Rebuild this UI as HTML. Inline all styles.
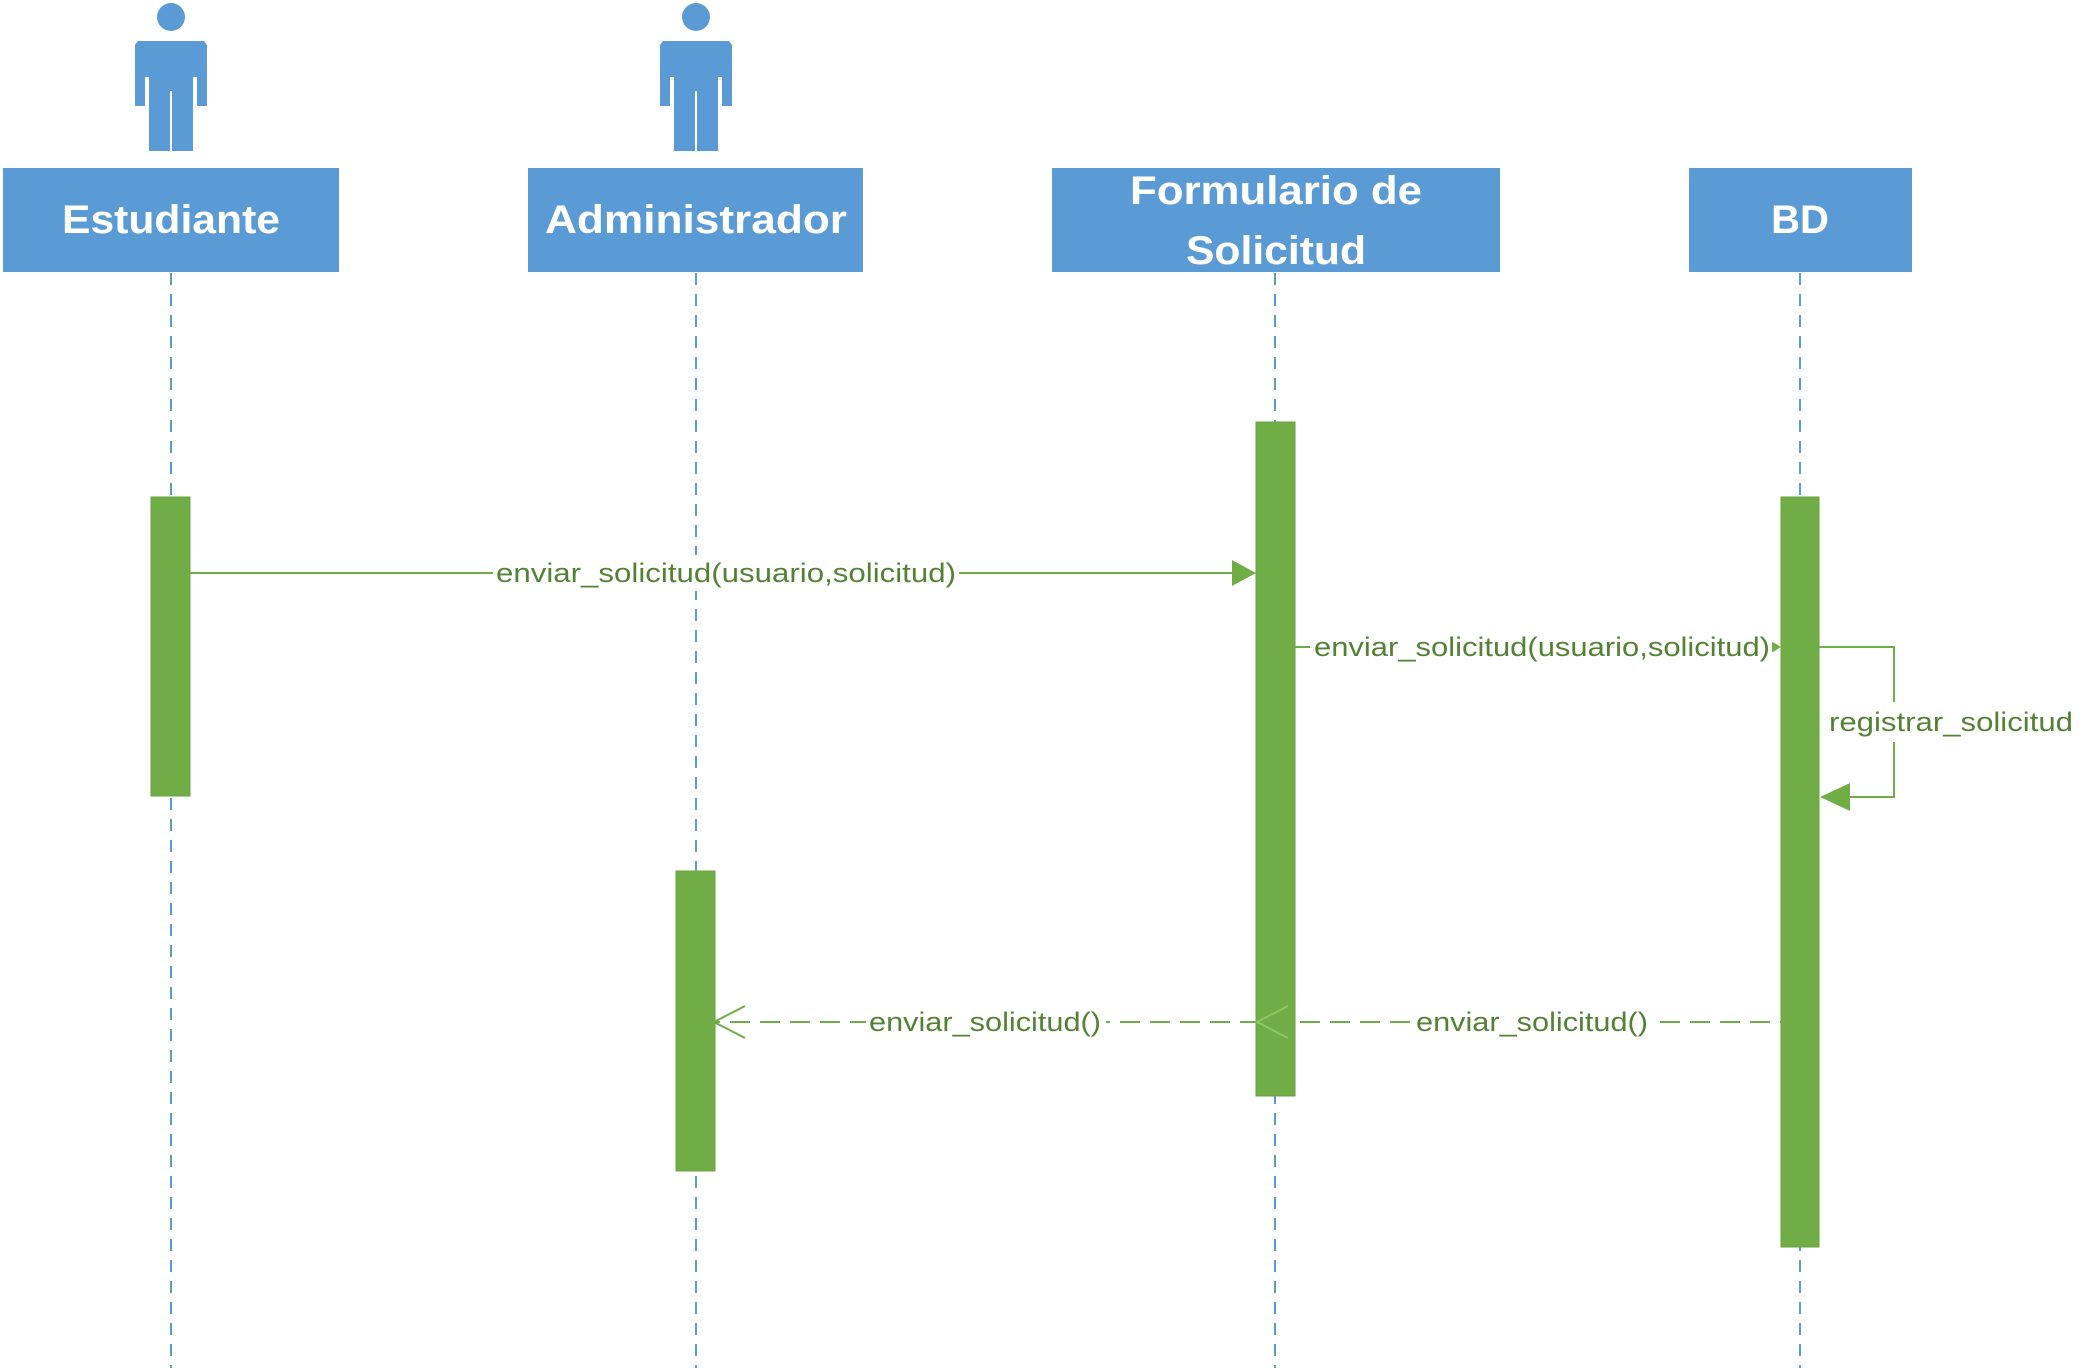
<!DOCTYPE html>
<html><head><meta charset="utf-8"><style>html,body{margin:0;padding:0;background:#fff}svg{display:block}</style></head>
<body>
<svg width="2090" height="1368" viewBox="0 0 2090 1368" xmlns="http://www.w3.org/2000/svg">
<defs>
<g id="actor" fill="#5b9bd5">
<ellipse cx="0" cy="17" rx="14" ry="14"/>
<path d="M-36,45 L-33,41 L33,41 L36,45 L36,106 L26,106 L26,77 L22,77 L22,151 L1,151 L1,91 L-1,91 L-1,151 L-22,151 L-22,77 L-26,77 L-26,106 L-36,106 Z"/>
</g>
</defs>
<g stroke="#5b9bd5" stroke-width="2" stroke-dasharray="12,9">
<line x1="171" y1="273" x2="171" y2="1368"/>
<line x1="696" y1="273" x2="696" y2="1368"/>
<line x1="1275" y1="273" x2="1275" y2="1368"/>
<line x1="1800" y1="273" x2="1800" y2="1368"/>
</g>
<use href="#actor" x="171" y="0"/>
<use href="#actor" x="696" y="0"/>
<g fill="#5b9bd5">
<rect x="3" y="168" width="336" height="104"/>
<rect x="528" y="168" width="335" height="104"/>
<rect x="1052" y="168" width="448" height="104"/>
<rect x="1689" y="168" width="223" height="104"/>
</g>
<g fill="#fff" font-family="Liberation Sans, sans-serif" font-weight="bold" font-size="40" text-anchor="middle">
<text x="171" y="233" textLength="218" lengthAdjust="spacingAndGlyphs">Estudiante</text>
<text x="696" y="233" textLength="302" lengthAdjust="spacingAndGlyphs">Administrador</text>
<text x="1276" y="204" textLength="292" lengthAdjust="spacingAndGlyphs">Formulario de</text>
<text x="1276" y="264" textLength="180" lengthAdjust="spacingAndGlyphs">Solicitud</text>
<text x="1800" y="233">BD</text>
</g>
<g fill="#70ad47" stroke="#6aa23f" stroke-width="1">
<rect x="151" y="497" width="39" height="299"/>
<rect x="676" y="871" width="39" height="300"/>
<rect x="1256" y="422" width="39" height="674"/>
<rect x="1781" y="497" width="38" height="750"/>
</g>
<g stroke="#70ad47" stroke-width="2" fill="none">
<line x1="190" y1="573" x2="1234" y2="573"/>
<line x1="1295" y1="647" x2="1772" y2="647"/>
<polyline points="1819,647 1894,647 1894,797 1848,797"/>
<line x1="1800" y1="1022" x2="715" y2="1022" stroke-dasharray="20,10"/>
<polyline points="745,1006 714,1022 745,1038"/>
<polyline points="1288,1006 1257,1022 1288,1038" stroke="#8fc46a"/>
</g>
<g fill="#70ad47">
<polygon points="1232,560 1256,573 1232,586"/>
<polygon points="1771,641 1781,647 1771,653"/>
<polygon points="1850,783 1820,797 1850,811"/>
</g>
<g font-family="Liberation Sans, sans-serif" font-size="27" fill="#548235">
<rect x="493" y="555" width="466" height="36" fill="#fff"/>
<text x="496" y="582" textLength="460" lengthAdjust="spacingAndGlyphs">enviar_solicitud(usuario,solicitud)</text>
<rect x="1310" y="630" width="462" height="34" fill="#fff"/>
<text x="1314" y="656" textLength="456" lengthAdjust="spacingAndGlyphs">enviar_solicitud(usuario,solicitud)</text>
<rect x="1826" y="702" width="250" height="40" fill="#fff"/>
<text x="1829" y="731" textLength="244" lengthAdjust="spacingAndGlyphs">registrar_solicitud</text>
<rect x="866" y="1004" width="240" height="36" fill="#fff"/>
<text x="869" y="1031" textLength="232" lengthAdjust="spacingAndGlyphs">enviar_solicitud()</text>
<rect x="1412" y="1004" width="240" height="36" fill="#fff"/>
<text x="1416" y="1031" textLength="232" lengthAdjust="spacingAndGlyphs">enviar_solicitud()</text>
</g>
</svg>
</body></html>
